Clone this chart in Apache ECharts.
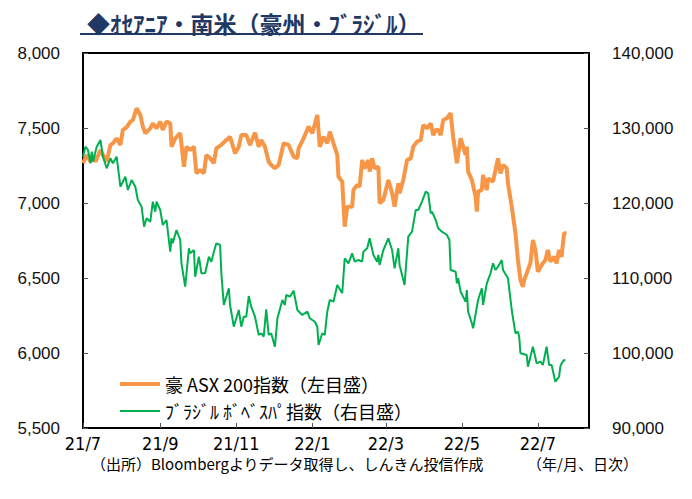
<!DOCTYPE html>
<html>
<head>
<meta charset="utf-8">
<script src="https://cdn.jsdelivr.net/npm/echarts@6/dist/echarts.min.js"></script>
<style>
  html, body { margin: 0; padding: 0; background: #fff; }
  #chart { width: 692px; height: 499px; }
</style>
</head>
<body>
<div id="chart"></div>
<script>
// 豪 ASX 200 (左目盛)
const asxDates = [
  "2021-07-01","2021-07-04","2021-07-07","2021-07-09","2021-07-11","2021-07-15","2021-07-17","2021-07-20","2021-07-23","2021-07-25",
  "2021-07-28","2021-07-31","2021-08-02","2021-08-05","2021-08-08","2021-08-10","2021-08-13","2021-08-16","2021-08-18","2021-08-20",
  "2021-08-24","2021-08-26","2021-08-29","2021-09-01","2021-09-03","2021-09-06","2021-09-09","2021-09-10","2021-09-13","2021-09-17",
  "2021-09-20","2021-09-22","2021-09-25","2021-09-28","2021-09-30","2021-10-03","2021-10-06","2021-10-08","2021-10-11","2021-10-14",
  "2021-10-16","2021-10-20","2021-10-24","2021-10-27","2021-10-31","2021-11-03","2021-11-05","2021-11-09","2021-11-12","2021-11-16",
  "2021-11-19","2021-11-21","2021-11-24","2021-11-27","2021-11-29","2021-12-02","2021-12-05","2021-12-09","2021-12-13","2021-12-17",
  "2021-12-20","2021-12-21","2021-12-25","2021-12-29","2022-01-01","2022-01-05","2022-01-07","2022-01-10","2022-01-13","2022-01-15",
  "2022-01-18","2022-01-21","2022-01-22","2022-01-25","2022-01-27","2022-01-29","2022-02-02","2022-02-03","2022-02-06","2022-02-08",
  "2022-02-10","2022-02-12","2022-02-15","2022-02-16","2022-02-18","2022-02-20","2022-02-23","2022-02-24","2022-02-27","2022-03-03",
  "2022-03-06","2022-03-08","2022-03-11","2022-03-12","2022-03-15","2022-03-18","2022-03-21","2022-03-23","2022-03-26","2022-03-29",
  "2022-03-31","2022-04-03","2022-04-06","2022-04-08","2022-04-10","2022-04-12","2022-04-14","2022-04-16","2022-04-19","2022-04-22",
  "2022-04-24","2022-04-27","2022-04-30","2022-05-02","2022-05-04","2022-05-05","2022-05-06","2022-05-09","2022-05-12","2022-05-13",
  "2022-05-14","2022-05-17","2022-05-18","2022-05-21","2022-05-22","2022-05-26","2022-05-28","2022-05-30","2022-06-01","2022-06-03",
  "2022-06-06","2022-06-07","2022-06-10","2022-06-13","2022-06-15","2022-06-17","2022-06-19","2022-06-20","2022-06-22","2022-06-25",
  "2022-06-27","2022-06-29","2022-07-01","2022-07-04","2022-07-07","2022-07-09","2022-07-11","2022-07-14","2022-07-16","2022-07-18",
  "2022-07-20","2022-07-22","2022-07-24"
]
const asxValues = [
  7265,7320,7275,7320,7275,7353,7320,7275,7387,7398,
  7431,7387,7487,7504,7542,7553,7631,7587,7509,7465,
  7498,7531,7498,7542,7487,7542,7531,7375,7431,7465,
  7242,7375,7353,7375,7198,7220,7198,7320,7298,7265,
  7365,7387,7420,7442,7331,7375,7453,7453,7387,7469,
  7375,7420,7375,7275,7253,7231,7253,7398,7387,7309,
  7298,7365,7431,7509,7465,7587,7375,7442,7398,7476,
  7398,7320,7175,7142,6842,6975,6975,7087,7120,7109,
  7287,7231,7287,7209,7298,7231,7242,6998,7020,7153,
  7065,6975,7131,7065,7153,7287,7298,7375,7409,7420,
  7520,7498,7531,7453,7487,7487,7453,7553,7565,7598,
  7442,7265,7431,7376,7320,7376,7209,7153,7042,6942,
  7076,7087,7187,7087,7164,7142,7220,7298,7198,7253,
  7231,7131,6975,6798,6620,6487,6442,6487,6531,6600,
  6753,6687,6542,6587,6620,6687,6609,6642,6598,6687,
  6642,6798,6798
]

// ブラジル ボベスパ (右目盛)
const bvspDates = [
  "2021-07-01","2021-07-03","2021-07-05","2021-07-07","2021-07-08","2021-07-09","2021-07-12","2021-07-15","2021-07-17","2021-07-20",
  "2021-07-23","2021-07-25","2021-07-28","2021-07-31","2021-08-04","2021-08-06","2021-08-09","2021-08-12","2021-08-14","2021-08-17",
  "2021-08-19","2021-08-21","2021-08-24","2021-08-26","2021-08-28","2021-08-29","2021-09-01","2021-09-03","2021-09-06","2021-09-09",
  "2021-09-10","2021-09-11","2021-09-14","2021-09-17","2021-09-18","2021-09-21","2021-09-24","2021-09-25","2021-09-28","2021-09-29",
  "2021-10-02","2021-10-04","2021-10-07","2021-10-10","2021-10-12","2021-10-14","2021-10-16","2021-10-19","2021-10-20","2021-10-22",
  "2021-10-26","2021-10-27","2021-10-30","2021-11-03","2021-11-05","2021-11-07","2021-11-09","2021-11-11","2021-11-13","2021-11-16",
  "2021-11-19","2021-11-21","2021-11-23","2021-11-25","2021-11-27","2021-11-29","2021-12-02","2021-12-04","2021-12-08","2021-12-10",
  "2021-12-11","2021-12-14","2021-12-17","2021-12-20","2021-12-24","2021-12-28","2021-12-30","2022-01-03","2022-01-05","2022-01-06",
  "2022-01-09","2022-01-11","2022-01-13","2022-01-15","2022-01-18","2022-01-21","2022-01-25","2022-01-27","2022-01-30","2022-02-02",
  "2022-02-04","2022-02-07","2022-02-10","2022-02-11","2022-02-14","2022-02-16","2022-02-19","2022-02-22","2022-02-23","2022-02-24",
  "2022-02-27","2022-03-03","2022-03-06","2022-03-08","2022-03-11","2022-03-12","2022-03-16","2022-03-19","2022-03-22","2022-03-25",
  "2022-03-27","2022-03-30","2022-04-02","2022-04-04","2022-04-06","2022-04-07","2022-04-10","2022-04-12","2022-04-15","2022-04-19",
  "2022-04-21","2022-04-22","2022-04-26","2022-04-27","2022-04-28","2022-04-30","2022-05-02","2022-05-04","2022-05-05","2022-05-06",
  "2022-05-09","2022-05-10","2022-05-14","2022-05-17","2022-05-18","2022-05-21","2022-05-24","2022-05-26","2022-05-28","2022-05-30",
  "2022-06-02","2022-06-03","2022-06-07","2022-06-10","2022-06-13","2022-06-15","2022-06-16","2022-06-17","2022-06-22","2022-06-23",
  "2022-06-27","2022-06-30","2022-07-03","2022-07-05","2022-07-08","2022-07-10","2022-07-12","2022-07-15","2022-07-18","2022-07-19",
  "2022-07-20","2022-07-22","2022-07-23"
]
const bvspValues = [
  126173,127507,127067,125293,126840,125500,127507,128400,126173,124627,
  125960,125293,126173,122173,123507,121733,123067,122173,120400,119507,
  116840,117960,117507,120173,118840,120173,119067,117067,117733,113507,
  115293,114627,116400,115067,111960,108840,113960,113293,113733,110173,
  112840,110627,110627,112840,112173,113507,114627,114400,110627,106400,
  108627,106400,103507,105733,103507,104840,104840,107600,106173,104840,
  102400,102627,102173,105827,102400,102627,100840,104627,107067,106400,
  107733,107507,108307,105733,105067,105507,104627,104173,103507,101067,
  102627,102400,105507,107067,106840,109067,107960,112627,111960,113293,
  112173,112400,112173,113507,113960,115293,113067,112173,113067,111733,
  113733,115293,113733,111293,113960,111733,109067,115507,116173,119067,
  119067,120173,121507,121293,118627,118840,117733,116627,116173,115733,
  115067,111067,110840,109293,109960,108173,107507,106840,108400,105507,
  103960,103293,107067,108627,106400,109293,110627,111960,111067,111507,
  112400,111067,109960,105733,102627,102840,102173,99960,99733,98173,
  100840,98627,98840,98400,100840,98400,98400,96173,96840,98173,
  98627,99067,99000
]

const asxName = "豪 ASX 200指数（左目盛）"
const bvspName = "ﾌﾞﾗｼﾞﾙ ﾎﾞﾍﾞｽﾊﾟ指数（右目盛）"
const leftTicks = { min: 5500, max: 8000, step: 500 }
const rightTicks = { min: 90000, max: 140000, step: 10000 }

const jpFont = "'Noto Sans CJK JP', sans-serif"
const numFont = "'Liberation Sans', Arial, sans-serif"

const chart = echarts.init(document.getElementById("chart"), null, { renderer: "svg" })

const comma = v => v.toLocaleString("en-US")

const option = {
  animation: false,
  backgroundColor: "#fff",
  title: [
    {
      text: "◆ｵｾｱﾆｱ・南米（豪州・ﾌﾞﾗｼﾞﾙ）",
      left: 82, top: 6,
      textStyle: { fontFamily: jpFont, fontSize: 23, fontWeight: "bold", color: "#1f3864" }
    },
    {
      text: "（出所）Bloombergよりデータ取得し、しんきん投信作成",
      left: 86, top: 451,
      textStyle: { fontFamily: jpFont, fontSize: 15, fontWeight: "normal", color: "#000" }
    },
    {
      text: "（年/月、日次）",
      left: 522, top: 451,
      textStyle: { fontFamily: jpFont, fontSize: 15, fontWeight: "normal", color: "#000" }
    }
  ],
  graphic: [
    { type: "rect", shape: { x: 80, y: 33, width: 343, height: 2 }, style: { fill: "#1f3864" } }
  ],
  legend: [
    {
      data: [{ name: asxName, icon: "rect" }],
      left: 115, top: 370, itemWidth: 40, itemHeight: 4, itemGap: 6,
      textStyle: { fontFamily: jpFont, fontSize: 18, color: "#000" }
    },
    {
      data: [{ name: bvspName, icon: "rect" }],
      left: 115, top: 397, itemWidth: 40, itemHeight: 2, itemGap: 6,
      textStyle: { fontFamily: jpFont, fontSize: 18, color: "#000" }
    }
  ],
  grid: {
    left: 83, top: 53, width: 506, height: 375,
    show: true, borderColor: "#000", borderWidth: 2, containLabel: false
  },
  xAxis: {
    type: "time",
    min: "2021-07-01",
    max: "2022-08-11",
    splitNumber: 6,
    axisLine: { lineStyle: { color: "#000", width: 2 } },
    axisTick: { inside: true, length: 5, lineStyle: { color: "#555" } },
    splitLine: { show: false },
    axisLabel: {
      fontFamily: "'Liberation Sans Narrow', 'DejaVu Sans Condensed', sans-serif",
      fontSize: 18, color: "#000", margin: 6,
      formatter: v => {
        const d = new Date(v)
        return (d.getFullYear() % 100) + "/" + (d.getMonth() + 1)
      }
    }
  },
  yAxis: [
    {
      type: "value", position: "left",
      min: leftTicks.min, max: leftTicks.max, interval: leftTicks.step,
      axisLine: { show: true, lineStyle: { color: "#000", width: 2 } },
      axisTick: { show: true, inside: true, length: 5, lineStyle: { color: "#555" } },
      splitLine: { show: false },
      axisLabel: { fontFamily: numFont, fontSize: 17, color: "#111", margin: 23, formatter: comma }
    },
    {
      type: "value", position: "right",
      min: rightTicks.min, max: rightTicks.max, interval: rightTicks.step,
      axisLine: { show: true, lineStyle: { color: "#000", width: 2 } },
      axisTick: { show: true, inside: true, length: 5, lineStyle: { color: "#555" } },
      splitLine: { show: false },
      axisLabel: { fontFamily: numFont, fontSize: 17, color: "#111", margin: 23, formatter: comma }
    }
  ],
  series: [
    {
      name: asxName, type: "line", yAxisIndex: 0,
      data: asxDates.map((d, i) => [d, asxValues[i]]),
      symbol: "none", color: "#f79646",
      lineStyle: { width: 4, color: "#f79646" }
    },
    {
      name: bvspName, type: "line", yAxisIndex: 1,
      data: bvspDates.map((d, i) => [d, bvspValues[i]]),
      symbol: "none", color: "#00b050",
      lineStyle: { width: 2, color: "#00b050" }
    }
  ]
}

chart.setOption(option)
</script>
</body>
</html>
